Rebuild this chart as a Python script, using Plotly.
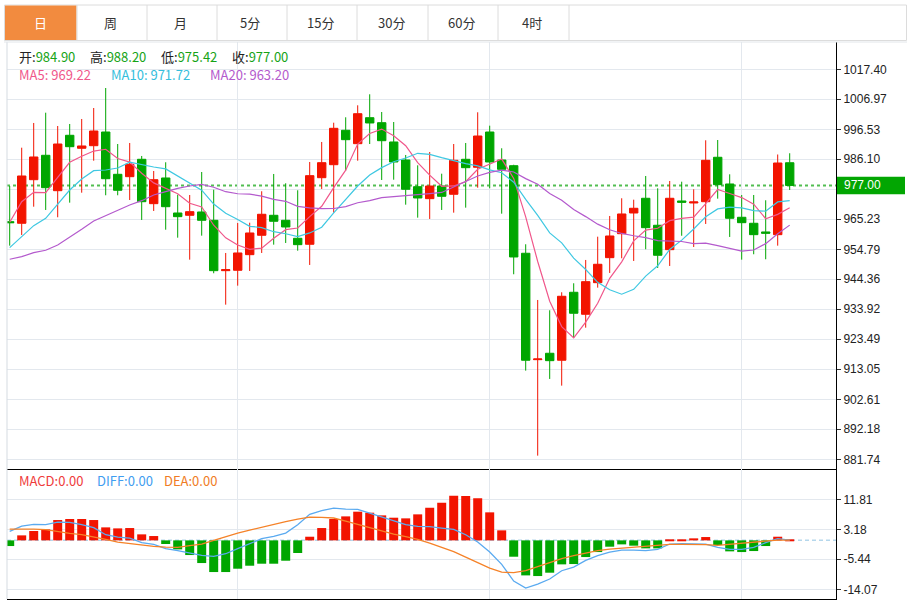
import plotly.graph_objects as go

# ---------------- data ----------------
opens = [964.40, 963.84, 979.00, 987.49, 975.18, 994.45, 989.93, 990.83, 995.59, 980.88,
         980.05, 986.10, 970.66, 979.60, 967.42, 966.62, 967.77, 964.88, 947.36, 947.49,
         952.92, 959.67, 966.62, 964.88, 958.62, 956.54, 979.70, 984.22, 996.19, 991.53,
         1000.57, 998.83, 992.12, 985.86, 976.57, 972.40, 976.81, 973.93, 986.10, 983.32,
         995.59, 985.86, 983.87, 953.41, 916.40, 918.63, 916.19, 939.84, 932.19, 943.18,
         951.88, 960.22, 967.42, 972.54, 963.15, 954.66, 971.60, 970.90, 971.35, 986.80,
         977.51, 965.93, 963.84, 960.82, 959.88, 984.90]
highs = [976.81, 990.13, 998.73, 1002.31, 997.68, 998.38, 1000.12, 1003.94, 1010.90, 991.42,
         991.77, 987.25, 982.03, 985.06, 973.79, 973.68, 981.68, 975.53, 953.51, 963.95,
         964.05, 974.97, 980.99, 977.75, 975.32, 985.16, 992.12, 998.83, 1000.71, 1004.88,
         1008.71, 1002.55, 999.07, 987.60, 984.01, 988.64, 981.09, 991.42, 991.77, 1002.45,
         997.79, 989.93, 984.20, 956.54, 937.16, 933.58, 939.84, 942.97, 951.08, 959.18,
         966.38, 972.54, 972.05, 980.29, 976.01, 978.55, 978.31, 975.67, 992.71, 992.81,
         980.88, 973.68, 973.68, 971.84, 987.77, 988.20]
lows = [956.05, 959.77, 969.61, 968.47, 965.93, 971.01, 974.48, 985.61, 973.58, 973.58,
        971.94, 964.99, 968.12, 961.61, 958.83, 951.18, 959.53, 946.45, 935.53, 942.14,
        947.25, 953.51, 956.40, 956.99, 954.31, 949.34, 975.77, 967.53, 982.14, 985.61,
        991.42, 978.90, 979.00, 970.31, 965.79, 965.34, 968.47, 967.53, 969.27, 976.22,
        976.01, 967.18, 946.10, 912.58, 883.01, 909.69, 907.36, 924.19, 927.53, 941.44,
        946.56, 951.67, 950.73, 954.80, 948.29, 948.99, 959.50, 955.60, 963.60, 972.40,
        959.08, 951.18, 953.06, 951.32, 956.05, 975.42]
closes = [964.05, 980.29, 986.90, 976.22, 991.42, 990.48, 990.73, 995.94, 979.35, 975.32,
          984.36, 971.35, 979.00, 969.61, 966.14, 967.88, 964.88, 947.36, 947.70, 953.51,
          960.47, 966.97, 964.54, 962.55, 956.40, 980.40, 984.92, 996.88, 992.92, 1001.96,
          998.73, 992.57, 985.16, 975.67, 972.64, 976.81, 973.23, 985.75, 983.18, 994.20,
          985.16, 982.62, 952.12, 916.19, 916.64, 916.05, 938.45, 932.54, 943.53, 949.58,
          959.42, 967.08, 969.06, 962.31, 952.71, 972.54, 971.14, 971.25, 985.75, 977.27,
          965.58, 964.05, 959.88, 960.36, 984.81, 977.00]

ma5 = [964.20, 971.35, 974.62, 974.48, 979.78, 985.06, 987.15, 988.96, 989.58, 986.36,
       985.14, 981.26, 977.88, 975.93, 974.09, 970.80, 969.50, 963.17, 958.79, 956.27,
       954.78, 955.20, 958.64, 961.61, 962.19, 966.17, 969.76, 976.23, 982.30, 991.42,
       995.08, 996.61, 994.27, 990.82, 984.95, 980.57, 976.70, 976.82, 978.32, 982.63,
       984.30, 986.18, 979.46, 966.06, 950.55, 936.72, 927.89, 923.97, 929.44, 936.03,
       944.70, 950.43, 957.73, 961.49, 962.12, 964.74, 965.55, 965.99, 970.68, 975.59,
       974.20, 972.78, 970.51, 965.43, 966.94, 969.22]
ma10 = [955.36, 959.18, 963.01, 965.58, 970.55, 975.42, 979.25, 982.14, 982.38, 983.07,
        985.10, 984.21, 983.42, 982.76, 980.23, 977.97, 975.38, 970.53, 967.36, 965.18,
        962.79, 962.35, 960.91, 960.20, 959.23, 960.48, 962.48, 967.43, 971.96, 976.80,
        980.63, 983.19, 985.25, 986.56, 988.19, 987.83, 986.66, 985.54, 984.57, 983.79,
        982.44, 981.44, 978.14, 972.19, 966.59, 960.51, 957.04, 951.72, 947.75, 943.29,
        940.71, 939.16, 940.85, 945.47, 949.07, 954.72, 957.99, 961.86, 966.08, 968.85,
        969.47, 969.17, 968.25, 968.05, 971.26, 971.72]
ma20 = [951.32, 952.22, 953.62, 954.45, 956.29, 958.97, 961.75, 964.64, 966.48, 968.12,
        970.21, 971.70, 973.68, 974.83, 976.01, 976.81, 977.40, 976.36, 974.83, 974.12,
        973.95, 973.28, 972.16, 971.48, 969.73, 969.22, 968.93, 968.98, 969.66, 970.99,
        971.71, 972.77, 973.08, 973.38, 973.71, 974.15, 974.57, 976.49, 978.26, 980.30,
        981.53, 982.31, 981.69, 979.38, 977.39, 974.17, 971.85, 968.63, 966.16, 963.54,
        961.58, 960.30, 959.50, 958.83, 957.83, 957.62, 957.51, 956.79, 956.92, 956.07,
        955.09, 954.16, 954.55, 956.76, 960.17, 963.20]

macd = [-1.63, 1.44, 2.69, 3.16, 5.85, 6.14, 6.14, 5.85, 3.74, 3.45,
        3.55, 1.73, 1.25, -1.05, -2.59, -4.22, -6.52, -9.11, -9.11, -8.15,
        -7.29, -6.71, -6.71, -5.85, -3.64, 1.05, 3.55, 6.14, 6.90, 8.25,
        7.96, 7.19, 6.52, 6.33, 7.48, 9.40, 10.84, 12.85, 12.75, 12.08,
        8.06, 2.88, -4.70, -10.07, -10.26, -9.30, -6.90, -6.81, -4.80, -3.36,
        -1.82, -1.15, -1.53, -2.30, -2.30, 0.29, 0.29, 0.58, 0.96, -1.34,
        -3.16, -3.36, -3.07, -1.63, 1.05, 0.10]
diff = [2.59, 4.12, 4.60, 4.51, 5.27, 5.18, 4.51, 3.64, 1.63, 0.96,
        0.67, -0.67, -1.15, -2.40, -2.97, -3.64, -4.32, -4.60, -3.84, -2.40,
        -1.05, 0.48, 1.15, 2.11, 4.51, 7.48, 8.54, 9.30, 9.01, 8.92,
        7.86, 6.71, 5.47, 4.51, 4.03, 3.93, 3.55, 3.16, 1.63, -0.48,
        -3.36, -6.90, -11.70, -13.71, -12.56, -11.12, -8.73, -7.67, -5.75, -4.41,
        -3.36, -2.78, -2.78, -2.97, -2.59, -1.05, -0.96, -0.96, -1.05, -2.01,
        -2.59, -2.59, -2.01, -0.67, 0.48, 0.10]
dea = [3.26, 3.36, 3.26, 3.07, 2.49, 2.01, 1.63, 1.05, 0.29, -0.48,
       -0.96, -1.34, -1.73, -1.92, -2.01, -1.53, -1.05, 0.00, 1.15, 2.11,
       2.97, 3.84, 4.60, 5.37, 6.14, 6.71, 6.62, 6.43, 5.56, 4.60,
       3.55, 2.69, 1.82, 1.05, 0.29, -0.77, -1.92, -3.26, -4.80, -6.43,
       -7.96, -9.11, -9.30, -8.73, -7.58, -6.33, -5.28, -4.41, -3.64, -2.97,
       -2.49, -2.21, -2.01, -1.82, -1.53, -1.15, -1.15, -1.15, -1.25, -1.44,
       -1.15, -0.86, -0.58, -0.29, 0.10, 0.10]

price_ticks = [1017.40, 1006.97, 996.53, 986.10, 975.66, 965.23, 954.79,
               944.36, 933.92, 923.49, 913.05, 902.61, 892.18, 881.74]
price_tick_text = ["1017.40", "1006.97", "996.53", "986.10", "", "965.23", "954.79",
                   "944.36", "933.92", "923.49", "913.05", "902.61", "892.18", "881.74"]
macd_ticks = [11.81, 3.18, -5.44, -14.07]
macd_tick_text = ["11.81", "3.18", "-5.44", "-14.07"]
vgrid_idx = [19, 40, 61]
tabs = ["日", "周", "月", "5分", "15分", "30分", "60分", "4时"]
last_price = 977.00
macd_labels = ["MACD:0.00", "DIFF:0.00", "DEA:0.00"]

idx = list(range(len(closes)))

# ---------------- styling ----------------
W, H = 911, 601
ML, MR, MT, MB = 7, 75, 42, 2
PW, PH = W - ML - MR, H - MT - MB
SPLIT = 469.3  # pixel y of the panel separator

RED = "#F21400"
GREEN = "#00A600"
GRID = "#E3E8EE"
C_MA5, C_MA10, C_MA20 = "#F0578B", "#3FC8E2", "#B45ACD"
C_DIFF, C_DEA = "#5AAAF0", "#F58228"
CJK = "Noto Sans CJK SC, Noto Sans, sans-serif"
NUMF = "Liberation Sans, Arial, sans-serif"


def fx(px):
    return (px - ML) / PW


def fy(py):
    return (H - MB - py) / PH


split = fy(SPLIT)

fig = go.Figure()
fig.add_trace(go.Candlestick(
    x=idx, open=opens, high=highs, low=lows, close=closes,
    increasing=dict(line=dict(color=RED, width=1), fillcolor=RED),
    decreasing=dict(line=dict(color=GREEN, width=1), fillcolor=GREEN),
    whiskerwidth=0, xaxis="x", yaxis="y"))
for vals, col in [(ma5, C_MA5), (ma10, C_MA10), (ma20, C_MA20)]:
    fig.add_trace(go.Scatter(x=idx, y=vals, mode="lines",
                             line=dict(color=col, width=1.2),
                             xaxis="x", yaxis="y"))

fig.add_trace(go.Bar(x=idx, y=macd, width=0.75,
                     marker=dict(color=[RED if v >= 0 else GREEN for v in macd], line=dict(width=0)),
                     xaxis="x2", yaxis="y2"))
fig.add_trace(go.Scatter(x=idx, y=diff, mode="lines", line=dict(color=C_DIFF, width=1.3),
                         xaxis="x2", yaxis="y2"))
fig.add_trace(go.Scatter(x=idx, y=dea, mode="lines", line=dict(color=C_DEA, width=1.3),
                         xaxis="x2", yaxis="y2"))

xr = [(ML - 9.7) / 12.0, (ML + PW - 9.7) / 12.0]
common_x = dict(range=xr, showgrid=True, gridcolor=GRID, gridwidth=1,
                tickvals=vgrid_idx, showticklabels=False, ticks="",
                showline=True, linecolor="black", linewidth=1, zeroline=False,
                fixedrange=True)

fig.update_layout(
    width=W, height=H, autosize=False,
    margin=dict(l=ML, r=MR, t=MT, b=MB, pad=0),
    paper_bgcolor="white", plot_bgcolor="white",
    showlegend=False, hovermode=False,
    boxgap=0.3, boxgroupgap=0.0, bargap=0.2,
    xaxis=dict(domain=[0, 1], anchor="y", rangeslider=dict(visible=False), **common_x),
    xaxis2=dict(domain=[0, 1], anchor="y2", **common_x),
    yaxis=dict(domain=[split, 1], anchor="x", side="right",
               range=[878.26, 1026.90], tickvals=price_ticks, ticktext=price_tick_text,
               showgrid=True, gridcolor=GRID, zeroline=False,
               showline=True, linecolor="black", linewidth=1,
               ticks="outside", ticklen=4, tickcolor="#333",
               tickfont=dict(family=NUMF, size=12, color="#222")),
    yaxis2=dict(domain=[0, split], anchor="x2", side="right",
                range=[-16.86, 20.44], tickvals=macd_ticks, ticktext=macd_tick_text,
                showgrid=True, gridcolor=GRID, zeroline=False,
                showline=True, linecolor="black", linewidth=1,
                ticks="outside", ticklen=4, tickcolor="#333",
                tickfont=dict(family=NUMF, size=12, color="#222")),
)

shapes = []
# last price dotted line & MACD zero line
shapes.append(dict(type="line", xref="paper", yref="y", x0=0, x1=1, y0=last_price, y1=last_price,
                   line=dict(color="#52BE52", width=2, dash="dot"), layer="below"))
shapes.append(dict(type="line", xref="paper", yref="y2", x0=0, x1=1, y0=0, y1=0,
                   line=dict(color="#B5D7EC", width=1.5, dash="4px,3px"), layer="below"))
# left border and top border of chart area
shapes.append(dict(type="line", xref="paper", yref="paper", x0=0, x1=0, y0=0, y1=1,
                   line=dict(color="#D5DBE1", width=1)))
shapes.append(dict(type="line", xref="paper", yref="paper", x0=fx(4), x1=fx(907), y0=1, y1=1,
                   line=dict(color="#E2E6EA", width=1)))
# last price box on the axis
shapes.append(dict(type="rect", xref="paper", yref="y", x0=fx(837), x1=fx(905),
                   y0=last_price - 3.05, y1=last_price + 3.05,
                   fillcolor="#02A602", line=dict(width=0), layer="above"))
# tab bar
shapes.append(dict(type="rect", xref="paper", yref="paper", x0=fx(4.5), x1=fx(906.5),
                   y0=fy(40.5), y1=fy(5), fillcolor="white", line=dict(color="#DCDCDC", width=1)))
shapes.append(dict(type="rect", xref="paper", yref="paper", x0=fx(5), x1=fx(76.5),
                   y0=fy(40), y1=fy(5.5), fillcolor="#F28B3F", line=dict(width=0)))
for dx in [77, 147, 217, 287, 357, 428, 498, 569]:
    shapes.append(dict(type="line", xref="paper", yref="paper", x0=fx(dx), x1=fx(dx),
                       y0=fy(40.5), y1=fy(5), line=dict(color="#DCDCDC", width=1)))
fig.update_layout(shapes=shapes)

ann = []
tab_cx = [40, 110, 180, 250, 320, 391, 461, 532]
for i, (t, cx) in enumerate(zip(tabs, tab_cx)):
    ann.append(dict(x=fx(cx), y=fy(22.5), xref="paper", yref="paper", text=t, showarrow=False,
                    xanchor="center", yanchor="middle",
                    font=dict(family=CJK, size=13, color="white" if i == 0 else "#333")))

vg = "#16A316"
ohlc_items = [("开", opens[-1], 16.7), ("高", highs[-1], 88.3), ("低", lows[-1], 159.3), ("收", closes[-1], 230)]
for lab, val, x in ohlc_items:
    ann.append(dict(x=fx(x), y=fy(56.5), xref="paper", yref="paper", showarrow=False,
                    xanchor="left", yanchor="middle",
                    text=f"{lab}:<span style='color:{vg}'>{val:.2f}</span>",
                    font=dict(family=CJK, size=13, color="#222")))
ma_items = [("MA5", ma5[-1], C_MA5, 16.7), ("MA10", ma10[-1], "#35BEDC", 109.3), ("MA20", ma20[-1], C_MA20, 208.3)]
for lab, val, col, x in ma_items:
    ann.append(dict(x=fx(x), y=fy(74.5), xref="paper", yref="paper", showarrow=False,
                    xanchor="left", yanchor="middle", text=f"{lab}: {val:.2f}",
                    font=dict(family=CJK, size=13, color=col)))
for lab, col, x in zip(macd_labels, ["#EF3B3B", "#3F9DF0", "#F07C24"], [16.7, 95, 161.7]):
    ann.append(dict(x=fx(x), y=fy(480.5), xref="paper", yref="paper", showarrow=False,
                    xanchor="left", yanchor="middle", text=lab,
                    font=dict(family=CJK, size=13, color=col)))
ann.append(dict(x=fx(842), y=last_price, xref="paper", yref="y", showarrow=False,
                xanchor="left", yanchor="middle", text=f"{last_price:.2f}",
                font=dict(family=NUMF, size=12, color="white")))
fig.update_layout(annotations=ann)

fig.write_html("out.html", config={"displayModeBar": False},
               post_script="document.body.style.margin='0';")
